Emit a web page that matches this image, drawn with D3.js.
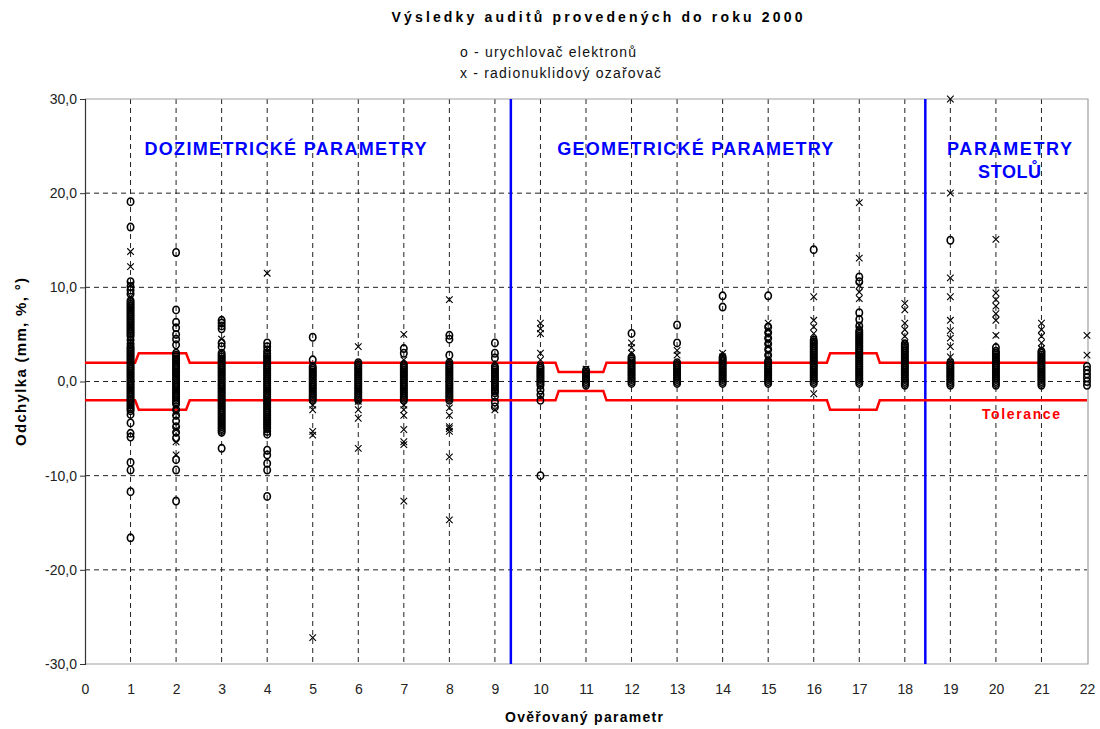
<!DOCTYPE html>
<html lang="cs">
<head>
<meta charset="UTF-8">
<title>Výsledky auditů provedených do roku 2000</title>
<style>
  body { margin: 0; background: #fff; font-family: "Liberation Sans", Arial, sans-serif; }
  .grid line { stroke: #222; stroke-width: 1; stroke-dasharray: 5,4; }
  .tick-label { font-size: 14px; fill: #222; }
  .section { font-size: 18px; font-weight: bold; fill: #0000ff; }
  .mark-o { fill: none; stroke: #000; stroke-width: 1.6; }
  .mark-x { fill: none; stroke: #000; stroke-width: 1.1; }
</style>
</head>
<body>
<div id="chart"></div>
<script src="https://d3js.org/d3.v7.min.js"></script>
<script>
// ověřované parametry 1..22
var params = d3.range(1, 23);

// o - urychlovač elektronů (odchylky, jeden seznam na parametr)
var electronVals = [
  [19.1, 16.4, 10.6, 10.1, 9.7, 9.3, 8.6, 8.4, 8.2, 8.0, 7.8, 7.6, 7.4, 7.2, 7.0, 6.8, 6.6, 6.4, 6.2, 6.0, 5.8, 5.6, 5.4, 5.2, 5.0, 4.8, 4.4, 4.0, 3.7, 3.5, 3.3, 3.1, 2.9, 2.7, 2.5, 2.3, 2.1, 1.9, 1.7, 1.5, 1.3, 1.1, 0.9, 0.7, 0.5, 0.3, 0.1, -0.1, -0.3, -0.5, -0.7, -0.9, -1.1, -1.3, -1.5, -1.7, -1.9, -2.1, -2.3, -2.5, -2.7, -2.9, -3.1, -3.5, -4.4, -5.5, -5.9, -8.6, -9.4, -11.7, -16.6],
  [13.7, 7.6, 6.3, 5.7, 5.0, 4.5, 3.9, 3.0, 2.8, 2.6, 2.4, 2.2, 2.0, 1.8, 1.6, 1.4, 1.2, 1.0, 0.8, 0.6, 0.4, 0.2, 0.0, -0.2, -0.4, -0.6, -0.8, -1.0, -1.2, -1.4, -1.6, -1.8, -2.0, -2.2, -2.4, -3.0, -3.6, -4.2, -4.8, -5.4, -6.0, -8.3, -9.4, -12.7],
  [6.5, 6.2, 5.9, 5.6, 4.1, 3.7, 3.0, 2.8, 2.6, 2.4, 2.2, 2.0, 1.8, 1.6, 1.4, 1.2, 1.0, 0.8, 0.6, 0.4, 0.2, 0.0, -0.2, -0.4, -0.6, -0.8, -1.0, -1.2, -1.4, -1.6, -1.8, -2.0, -2.2, -2.4, -2.6, -2.8, -3.0, -3.2, -3.4, -3.6, -3.8, -4.0, -4.2, -4.4, -4.6, -4.8, -5.0, -5.2, -5.4, -7.1],
  [4.1, 3.7, 3.3, 3.0, 2.8, 2.6, 2.4, 2.2, 2.0, 1.8, 1.6, 1.4, 1.2, 1.0, 0.8, 0.6, 0.4, 0.2, 0.0, -0.2, -0.4, -0.6, -0.8, -1.0, -1.2, -1.4, -1.6, -1.8, -2.0, -2.2, -2.4, -2.6, -2.8, -3.0, -3.2, -3.4, -3.6, -3.8, -4.0, -4.2, -4.4, -4.6, -4.8, -5.0, -5.3, -5.6, -7.3, -7.8, -8.7, -9.4, -12.2],
  [4.7, 2.3, 1.6, 1.4, 1.2, 1.0, 0.8, 0.6, 0.4, 0.2, 0.0, -0.2, -0.4, -0.6, -0.8, -1.0, -1.2, -1.4, -1.6, -1.8, -2.0],
  [2.0, 1.8, 1.6, 1.4, 1.2, 1.0, 0.8, 0.6, 0.4, 0.2, 0.0, -0.2, -0.4, -0.6, -0.8, -1.0, -1.2, -1.4, -1.6, -1.8, -2.0],
  [3.5, 3.0, 1.8, 1.6, 1.4, 1.2, 1.0, 0.8, 0.6, 0.4, 0.2, 0.0, -0.2, -0.4, -0.6, -0.8, -1.0, -1.2, -1.4, -1.6, -1.8, -2.0],
  [4.9, 4.5, 2.8, 2.0, 1.8, 1.6, 1.4, 1.2, 1.0, 0.8, 0.6, 0.4, 0.2, 0.0, -0.2, -0.4, -0.6, -0.8, -1.0, -1.2, -1.4, -1.6, -1.8, -2.0],
  [4.1, 3.0, 2.5, 1.6, 1.4, 1.2, 1.0, 0.8, 0.6, 0.4, 0.2, 0.0, -0.2, -0.4, -0.6, -0.8, -1.0, -1.2, -1.6, -2.2, -2.7],
  [1.6, 1.4, 1.2, 1.0, 0.8, 0.6, 0.4, 0.2, 0.0, -0.2, -0.4, -0.9, -1.4, -2.0, -10.0],
  [1.2, 1.0, 0.8, 0.6, 0.4, 0.2, 0.0, -0.2, -0.4],
  [5.1, 2.6, 2.4, 2.2, 2.0, 1.8, 1.6, 1.4, 1.2, 1.0, 0.8, 0.6, 0.4, 0.2, 0.0, -0.2],
  [6.0, 4.1, 2.0, 1.8, 1.6, 1.4, 1.2, 1.0, 0.8, 0.6, 0.4, 0.2, 0.0, -0.2],
  [9.1, 7.9, 2.6, 2.4, 2.2, 2.0, 1.8, 1.6, 1.4, 1.2, 1.0, 0.8, 0.6, 0.4, 0.2, 0.0, -0.2],
  [9.1, 5.8, 5.2, 4.6, 4.0, 3.4, 2.8, 2.2, 2.0, 1.8, 1.6, 1.4, 1.2, 1.0, 0.8, 0.6, 0.4, 0.2, 0.0, -0.2],
  [14.0, 4.4, 4.2, 4.0, 3.8, 3.6, 3.4, 3.2, 3.0, 2.8, 2.6, 2.4, 2.2, 2.0, 1.8, 1.6, 1.4, 1.2, 1.0, 0.8, 0.6, 0.4, 0.2, 0.0, -0.2],
  [11.1, 10.6, 7.3, 6.6, 5.9, 5.4, 5.2, 5.0, 4.8, 4.6, 4.4, 4.2, 4.0, 3.8, 3.6, 3.4, 3.2, 3.0, 2.8, 2.6, 2.4, 2.2, 2.0, 1.8, 1.6, 1.4, 1.2, 1.0, 0.8, 0.6, 0.4, 0.2, 0.0, -0.2],
  [4.0, 3.8, 3.6, 3.4, 3.2, 3.0, 2.8, 2.6, 2.4, 2.2, 2.0, 1.8, 1.6, 1.4, 1.2, 1.0, 0.8, 0.6, 0.4, 0.2, 0.0, -0.2, -0.4],
  [15.0, 2.0, 1.8, 1.6, 1.4, 1.2, 1.0, 0.8, 0.6, 0.4, 0.2, 0.0, -0.2, -0.4],
  [3.6, 3.2, 3.0, 2.8, 2.6, 2.4, 2.2, 2.0, 1.8, 1.6, 1.4, 1.2, 1.0, 0.8, 0.6, 0.4, 0.2, 0.0, -0.2, -0.4],
  [3.2, 3.0, 2.8, 2.6, 2.4, 2.2, 2.0, 1.8, 1.6, 1.4, 1.2, 1.0, 0.8, 0.6, 0.4, 0.2, 0.0, -0.2, -0.4],
  [1.6, 1.2, 0.8, 0.4, 0.0, -0.4]
];

// x - radionuklidový ozařovač
var radioVals = [
  [13.8, 12.2, 10.3, 9.0, 7.5, 5.8, 4.2, 2.0, 0.5, -1.0, -2.5],
  [2.0, 0.5, -1.0, -2.7, -3.3, -5.1, -6.4, -7.8],
  [4.5, 1.0, -1.5, -3.5],
  [11.5, 3.5, 1.0, -2.0, -5.2],
  [1.2, 0.3, -1.0, -2.5, -3.0, -5.3, -5.7, -27.2],
  [3.7, 1.0, -1.0, -2.1, -3.0, -3.9, -7.1],
  [5.0, 2.3, 0.5, -2.5, -3.0, -3.6, -5.1, -6.4, -6.7, -12.7],
  [8.7, 1.0, -2.8, -3.6, -4.8, -5.0, -5.3, -8.0, -14.7],
  [0.5, -1.0, -3.0],
  [6.2, 5.6, 5.1, 3.0, 2.3, -1.5],
  [1.3, 0.5],
  [4.1, 3.6, 3.0, 1.0],
  [3.3, 2.8, 1.0],
  [3.0, 2.6, 1.5, 0.4],
  [6.2, 5.5, 4.9, 4.3, 3.7, 3.1, 2.5, 1.0],
  [9.0, 6.5, 5.8, 5.1, 4.4, 2.0, -1.3],
  [19.0, 13.1, 10.2, 9.5, 8.8, 6.0, 3.0],
  [8.3, 7.6, 6.2, 5.5, 4.8, 4.1, 2.0],
  [30.0, 20.0, 11.0, 9.0, 6.5, 5.4, 4.6, 3.7, 2.6],
  [15.1, 9.4, 8.7, 8.0, 7.2, 6.5, 4.9],
  [6.2, 5.5, 4.8, 4.1, 3.5],
  [4.9, 2.8]
];

// tolerance (horní mez, dolní je zrcadlová)
var tolX = [0, 1.1, 1.18, 2.22, 2.3, 10.33, 10.4, 11.38, 11.45, 16.29, 16.36, 17.38, 17.45, 22];
var tolUp = [2, 2, 3, 3, 2, 2, 1, 1, 2, 2, 3, 3, 2, 2];

var xTicks = d3.range(0, 23);
var yTicks = [30, 20, 10, 0, -10, -20, -30];
var sectionBreaks = [9.35, 18.45];
var sectionNames = [["DOZIMETRICKÉ PARAMETRY"], ["GEOMETRICKÉ PARAMETRY"], ["PARAMETRY", "STOLŮ"]];
var sectionCenters = [4.4, 13.4, 20.3];

var chartW = 1100, chartH = 729;
var mLeft = 85, mRight = 1087, mTop = 99, mBottom = 664;
var sectionWidths = [[282], [276], [125, 63]];

var svg = d3.select('#chart').append('svg')
  .attr('width', chartW).attr('height', chartH);

var x = d3.scaleLinear().domain([0, 22]).range([mLeft, mRight]);
var y = d3.scaleLinear().domain([-30, 30]).range([mBottom, mTop]);

// grid
var grid = svg.append('g').attr('class', 'grid');
grid.selectAll('.gy').data(yTicks.filter(function(d) { return d > -30 && d < 30; }))
  .enter().append('line')
  .attr('x1', mLeft).attr('x2', mRight)
  .attr('y1', function(d) { return y(d); }).attr('y2', function(d) { return y(d); });
grid.selectAll('.gx').data(xTicks.filter(function(d) { return d > 0 && d < 22; }))
  .enter().append('line')
  .attr('y1', mTop).attr('y2', mBottom)
  .attr('x1', function(d) { return x(d); }).attr('x2', function(d) { return x(d); });

// frame
svg.append('path')
  .attr('d', 'M' + mLeft + ',' + mTop + 'H' + (mRight + 1) + 'V' + mBottom + 'H' + mLeft)
  .attr('fill', 'none').attr('stroke', '#a0a0a0').attr('stroke-width', 1.2);

// y axis
var yAxis = d3.axisLeft(y).tickValues(yTicks).tickSize(5)
  .tickFormat(function(d) { return d.toFixed(1).replace('.', ','); });
var ya = svg.append('g').attr('transform', 'translate(' + mLeft + ',0)').call(yAxis);
ya.select('.domain').attr('stroke', '#333').attr('stroke-width', 1.2);
ya.selectAll('.tick line').attr('stroke', '#333');
ya.selectAll('.tick text').attr('class', 'tick-label')
  .style('font-family', '"Liberation Sans", Arial, sans-serif')
  .attr('x', -8);

// x axis labels
var xAxis = d3.axisBottom(x).tickValues(xTicks).tickSize(0).tickPadding(30);
var xa = svg.append('g').attr('transform', 'translate(0,' + mBottom + ')').call(xAxis);
xa.select('.domain').remove();
xa.selectAll('.tick text').attr('class', 'tick-label')
  .style('font-family', '"Liberation Sans", Arial, sans-serif')
  .attr('dy', '0');

// section separators
svg.selectAll('.sep').data(sectionBreaks).enter().append('line')
  .attr('x1', function(d) { return x(d); }).attr('x2', function(d) { return x(d); })
  .attr('y1', mTop).attr('y2', mBottom)
  .attr('stroke', '#0000ff').attr('stroke-width', 2.5);

// tolerance lines
var tolPts = tolX.map(function(d, i) { return [d, tolUp[i]]; });
var tolLine = d3.line().x(function(d) { return x(d[0]); }).y(function(d) { return y(d[1]); });
svg.append('path').datum(tolPts).attr('d', tolLine)
  .attr('fill', 'none').attr('stroke', '#ff0000').attr('stroke-width', 2.5);
svg.append('path').datum(tolPts.map(function(d) { return [d[0], -d[1]]; })).attr('d', tolLine)
  .attr('fill', 'none').attr('stroke', '#ff0000').attr('stroke-width', 2.5);

// points
var circlePts = [], crossPts = [];
params.forEach(function(p, i) {
  electronVals[i].forEach(function(v) { circlePts.push([p, v]); });
  radioVals[i].forEach(function(v) { crossPts.push([p, v]); });
});
svg.append('g').selectAll('ellipse').data(circlePts).enter().append('ellipse')
  .attr('class', 'mark-o')
  .attr('cx', function(d) { return x(d[0]); })
  .attr('cy', function(d) { return y(d[1]); })
  .attr('rx', 3.2).attr('ry', 3.7);
var crossSym = d3.symbol().type(d3.symbolX).size(30);
svg.append('g').selectAll('path').data(crossPts).enter().append('path')
  .attr('class', 'mark-x')
  .attr('d', crossSym)
  .attr('transform', function(d) { return 'translate(' + x(d[0]) + ',' + y(d[1]) + ')'; });

// section labels
sectionNames.forEach(function(lines, i) {
  lines.forEach(function(t, j) {
    svg.append('text').attr('class', 'section')
      .attr('x', x(sectionCenters[i])).attr('y', 155 + j * 23)
      .attr('text-anchor', 'middle')
      .attr('textLength', sectionWidths[i][j]).attr('lengthAdjust', 'spacing')
      .text(t);
  });
});

svg.append('text')
  .attr('x', 1021).attr('y', 419).attr('text-anchor', 'middle')
  .style('font-size', '14px').style('font-weight', 'bold').style('fill', '#ff0000')
  .attr('textLength', 78).attr('lengthAdjust', 'spacing')
  .text('Tolerance');

// title + legend
svg.append('text')
  .attr('x', 597).attr('y', 22).attr('text-anchor', 'middle')
  .style('font-size', '14px').style('font-weight', 'bold')
  .attr('textLength', 411).attr('lengthAdjust', 'spacing')
  .text('Výsledky  auditů provedených do roku 2000');
svg.append('text')
  .attr('x', 460).attr('y', 57).style('font-size', '14px').style('fill', '#111')
  .attr('textLength', 176).attr('lengthAdjust', 'spacing')
  .text('o - urychlovač elektronů');
svg.append('text')
  .attr('x', 460).attr('y', 78).style('font-size', '14px').style('fill', '#111')
  .attr('textLength', 201).attr('lengthAdjust', 'spacing')
  .text('x - radionuklidový ozařovač');

// axis titles
svg.append('text')
  .attr('x', 584).attr('y', 722).attr('text-anchor', 'middle')
  .style('font-size', '14px').style('font-weight', 'bold')
  .attr('textLength', 158).attr('lengthAdjust', 'spacing')
  .text('Ověřovaný parametr');
svg.append('text')
  .attr('transform', 'translate(26,' + 362 + ') rotate(-90)')
  .attr('text-anchor', 'middle')
  .style('font-size', '15px').style('font-weight', 'bold')
  .attr('textLength', 168).attr('lengthAdjust', 'spacing')
  .text('Odchylka (mm, %, °)');
</script>
</body>
</html>
